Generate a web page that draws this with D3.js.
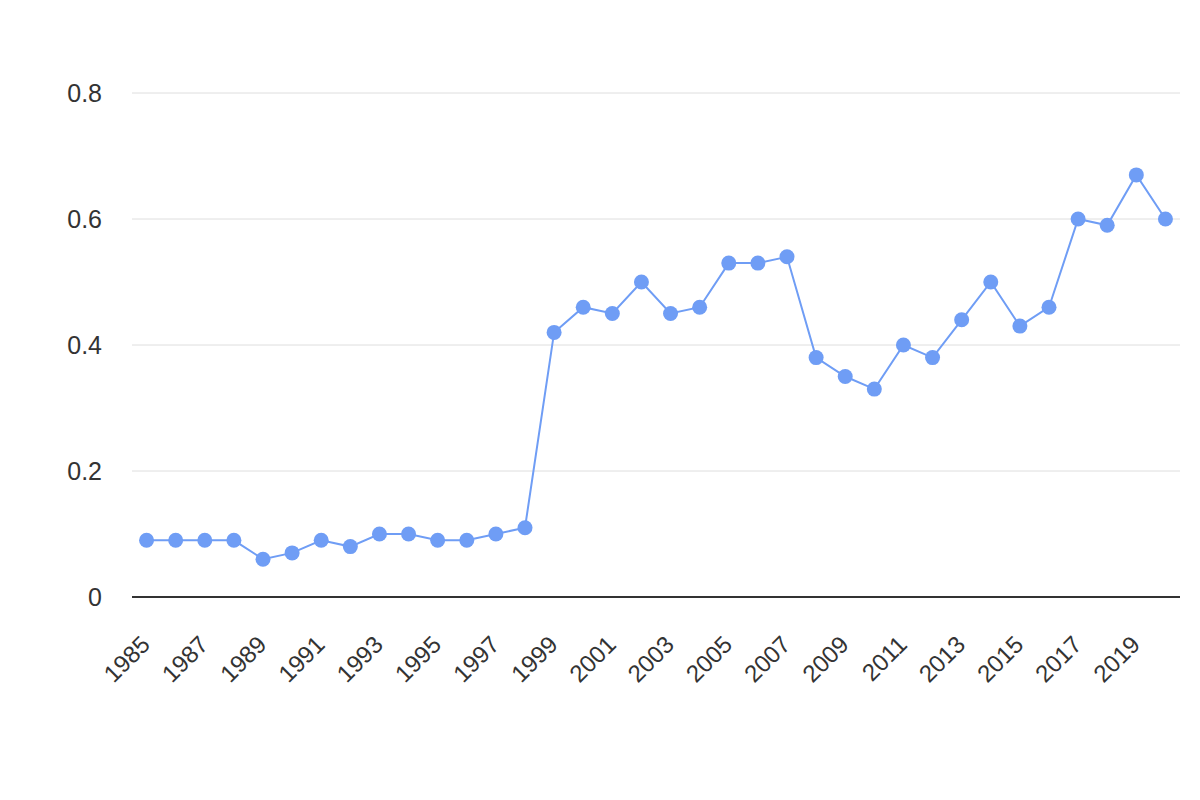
<!DOCTYPE html>
<html>
<head>
<meta charset="utf-8">
<script src="https://cdn.jsdelivr.net/npm/d3@7"></script>
<style>
  body { margin: 0; background: #fff; }
  text { font-family: Arial, "Liberation Sans", sans-serif; fill: #333; }
</style>
</head>
<body>
<svg id="chart" width="1200" height="800"></svg>
<script>
var years = d3.range(1985, 2021)
var values = [0.09, 0.09, 0.09, 0.09, 0.06, 0.07, 0.09, 0.08, 0.10, 0.10,
  0.09, 0.09, 0.10, 0.11, 0.42, 0.46, 0.45, 0.50, 0.45, 0.46,
  0.53, 0.53, 0.54, 0.38, 0.35, 0.33, 0.40, 0.38, 0.44, 0.50,
  0.43, 0.46, 0.60, 0.59, 0.67, 0.60]
var yTicks = [0, 0.2, 0.4, 0.6, 0.8]
var xLabels = years.filter(function (y, i) { return i % 2 === 0 })

function draw () {
  var svg = d3.select('#chart')
  var left = 132
  var right = 1180
  var plotTop = 93
  var plotBottom = 597
  var color = '#6f9df5'

  var x = d3.scaleBand().domain(years).range([left, right])
  var y = d3.scaleLinear().domain([0, 0.8]).range([plotBottom, plotTop])

  // grid
  svg.append('g')
    .selectAll('line')
    .data(yTicks.filter(function (d) { return d > 0 }))
    .enter().append('line')
    .attr('x1', left)
    .attr('x2', right)
    .attr('y1', function (d) { return y(d) })
    .attr('y2', function (d) { return y(d) })
    .style('stroke', '#dedede')
    .style('stroke-width', 1)

  // y labels
  svg.append('g')
    .selectAll('text')
    .data(yTicks)
    .enter().append('text')
    .attr('x', 102)
    .attr('y', function (d) { return y(d) })
    .attr('dy', '0.35em')
    .attr('text-anchor', 'end')
    .style('font-size', '25px')
    .text(function (d) { return d === 0 ? '0' : d3.format('.1f')(d) })

  // baseline
  svg.append('line')
    .attr('x1', left)
    .attr('x2', right)
    .attr('y1', y(0))
    .attr('y2', y(0))
    .style('stroke', '#333')
    .style('stroke-width', 2)

  // x labels
  svg.append('g')
    .selectAll('text')
    .data(xLabels)
    .enter().append('text')
    .attr('text-anchor', 'end')
    .attr('transform', function (d) {
      var cx = x(d) + x.bandwidth() / 2
      return 'translate(' + (cx + 5) + ',' + 646 + ') rotate(-45)'
    })
    .style('font-size', '24px')
    .text(function (d) { return d })

  // line
  var line = d3.line()
    .x(function (d, i) { return x(years[i]) + x.bandwidth() / 2 })
    .y(function (d) { return y(d) })

  svg.append('path')
    .datum(values)
    .attr('d', line)
    .style('fill', 'none')
    .style('stroke', color)
    .style('stroke-width', 2)

  svg.append('g')
    .selectAll('circle')
    .data(values)
    .enter().append('circle')
    .attr('cx', function (d, i) { return x(years[i]) + x.bandwidth() / 2 })
    .attr('cy', function (d) { return y(d) })
    .attr('r', 7.5)
    .style('fill', color)
}

draw()
</script>
</body>
</html>
